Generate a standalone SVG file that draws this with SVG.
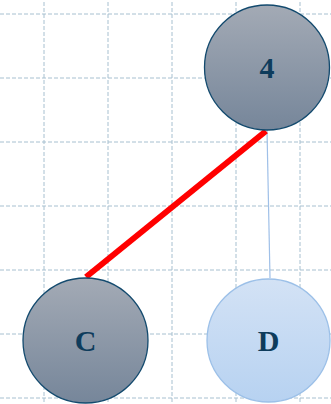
<svg xmlns="http://www.w3.org/2000/svg" width="331" height="404" viewBox="0 0 331 404">
<style>
.grid line{stroke:#a7c0d0;stroke-width:1;stroke-dasharray:4,2}
.lbl{font-family:"Liberation Serif",serif;font-weight:bold;font-size:30px;fill:#0e3c5c;text-anchor:middle}
.dark{fill:url(#gd);stroke:#134a6e;stroke-width:1.3}
.light{fill:url(#gl);stroke:#9cc0e8;stroke-width:1.3}
</style>
<defs>
<linearGradient id="gd" x1="0" y1="0" x2="0" y2="1"><stop offset="0" stop-color="#a3aab5"/><stop offset="1" stop-color="#76869a"/></linearGradient>
<linearGradient id="gl" x1="0" y1="0" x2="0" y2="1"><stop offset="0" stop-color="#d3e2f5"/><stop offset="1" stop-color="#b7d2f1"/></linearGradient>
</defs>
<rect width="331" height="404" fill="#fff"/>
<g class="grid">
<line x1="44" y1="2" x2="44" y2="404"/><line x1="108" y1="2" x2="108" y2="404"/><line x1="172" y1="2" x2="172" y2="404"/><line x1="236" y1="2" x2="236" y2="404"/><line x1="300" y1="2" x2="300" y2="404"/>
<line x1="0" y1="14" x2="331" y2="14"/><line x1="0" y1="78" x2="331" y2="78"/><line x1="0" y1="142" x2="331" y2="142"/><line x1="0" y1="206" x2="331" y2="206"/><line x1="0" y1="270" x2="331" y2="270"/><line x1="0" y1="334" x2="331" y2="334"/><line x1="0" y1="398" x2="331" y2="398"/>
</g>
<g id="connectors">
<line x1="267" y1="130" x2="270" y2="278" stroke="#9fc0e8" stroke-width="1.2"/>
<line x1="86" y1="277" x2="266" y2="131" stroke="#ff0000" stroke-width="6"/>
</g>
<g id="node-4"><circle class="dark" cx="267" cy="67.5" r="62.5"/><text class="lbl" x="267" y="78">4</text></g>
<g id="node-C"><circle class="dark" cx="85.5" cy="340.5" r="62.5"/><text class="lbl" x="85.5" y="351">C</text></g>
<g id="node-D"><circle class="light" cx="268.5" cy="340.5" r="61.5"/><text class="lbl" x="268.5" y="351">D</text></g>
</svg>
